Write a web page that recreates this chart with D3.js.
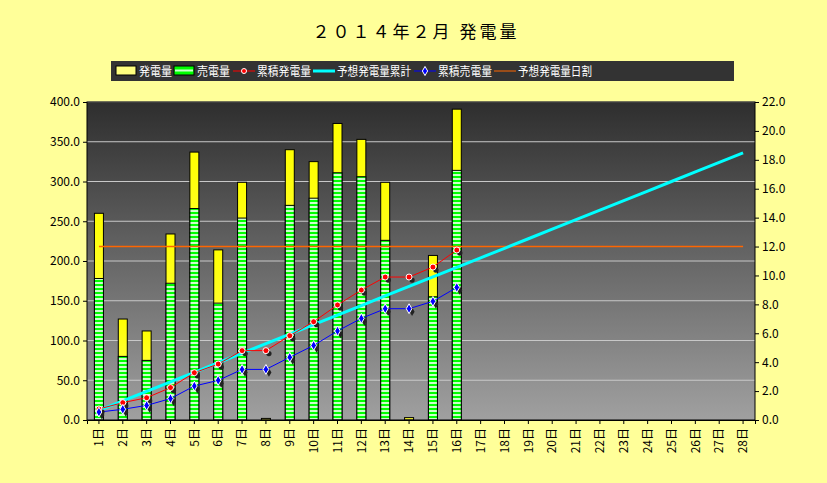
<!DOCTYPE html><html><head><meta charset="utf-8">
<script src="https://cdn.jsdelivr.net/npm/d3@7"></script>
<style>body{margin:0;background:#ffff99}text{font-family:"Noto Sans CJK JP",sans-serif}</style></head><body>
<svg id="c" width="827" height="483"></svg>
<script>
const days = d3.range(1,29).map(d=>d+"日");
const generation = [260,127,112,234,337,214,299,2,340,325,373,353,299,3,207,391];
const sold = [178,80,75,172,266,147,254,0,270,279,311,306,226,0,155,314];
const cumGen = [0.76,1.20,1.54,2.24,3.27,3.87,4.80,4.80,5.83,6.80,7.96,8.99,9.89,9.89,10.58,11.76];
const cumSold = [0.55,0.74,1.01,1.48,2.35,2.74,3.50,3.50,4.34,5.16,6.16,7.03,7.70,7.70,8.21,9.17];
const forecastCum = [0.66,1.32,1.98,2.64,3.30,3.96,4.62,5.28,5.94,6.60,7.26,7.92,8.58,9.24,9.90,10.56,11.22,11.88,12.54,13.20,13.86,14.52,15.18,15.84,16.50,17.16,17.82,18.48];
const forecastDaily = days.map(()=>12.0);
const leftTicks = [0,50,100,150,200,250,300,350,400];
const rightTicks = [0,2,4,6,8,10,12,14,16,18,20,22];

const svg=d3.select("#c");
const L=87,R=755,T=102,B=420;
const x=d3.scaleBand().domain(days).range([L,R]);
const yl=d3.scaleLinear().domain([0,400]).range([B,T]);
const yr=d3.scaleLinear().domain([0,22]).range([B,T]);
const defs=svg.append("defs");
const g=defs.append("linearGradient").attr("id","bg").attr("x1",0).attr("y1",0).attr("x2",0).attr("y2",1);
g.append("stop").attr("offset","0").attr("stop-color","#2e2e2e");
g.append("stop").attr("offset","1").attr("stop-color","#a0a0a0");
const p=defs.append("pattern").attr("id","stripe").attr("patternUnits","userSpaceOnUse").attr("width",4).attr("height",4);
p.append("rect").attr("width",4).attr("height",4).attr("fill","#00ff00");
p.append("rect").attr("y",2).attr("width",4).attr("height",2).attr("fill","#ccffcc");
const yg=defs.append("linearGradient").attr("id","yel").attr("x1",0).attr("y1",0).attr("x2",0).attr("y2",1);
yg.append("stop").attr("offset","0").attr("stop-color","#ffff00");
yg.append("stop").attr("offset","1").attr("stop-color","#ffff80");

svg.append("text").attr("x",416).attr("y",38).attr("text-anchor","middle").attr("font-size",17).attr("letter-spacing",3).text("２０１４年２月 発電量");
svg.append("rect").attr("x",L).attr("y",T).attr("width",R-L).attr("height",B-T).attr("fill","url(#bg)");
svg.append("g").selectAll("line").data(leftTicks.slice(1)).join("line")
 .attr("x1",L).attr("x2",R).attr("y1",d=>yl(d)).attr("y2",d=>yl(d)).attr("stroke","#c8c8c8").attr("stroke-width",1);

const bw=9;
svg.append("g").selectAll("rect").data(generation).join("rect")
 .attr("x",(d,i)=>x(days[i])+x.bandwidth()/2-bw/2).attr("y",d=>yl(d)).attr("width",bw).attr("height",d=>B-yl(d))
 .attr("fill","url(#yel)").attr("stroke","#000").attr("stroke-width",1);
svg.append("g").selectAll("rect").data(sold).join("rect")
 .attr("x",(d,i)=>x(days[i])+x.bandwidth()/2-bw/2).attr("y",d=>yl(d)).attr("width",bw).attr("height",d=>B-yl(d))
 .attr("fill","url(#stripe)").attr("stroke","#000").attr("stroke-width",1);

const cx=i=>x(days[i])+x.bandwidth()/2;
svg.append("line").attr("x1",cx(0)).attr("x2",cx(27)).attr("y1",yr(forecastDaily[0])).attr("y2",yr(forecastDaily[27])).attr("stroke","#ff6600").attr("stroke-width",1.5);
const line=d3.line().x((d,i)=>cx(i)).y(d=>yr(d));
svg.append("path").datum(forecastCum).attr("d",line).attr("fill","none").attr("stroke","#00ffff").attr("stroke-width",3);
svg.append("path").datum(cumGen).attr("d",line).attr("fill","none").attr("stroke","#ff0000").attr("stroke-width",1);
svg.append("path").datum(cumSold).attr("d",line).attr("fill","none").attr("stroke","#0000ff").attr("stroke-width",1);
svg.append("g").selectAll("path").data(cumGen).join("path").attr("d",d3.symbol(d3.symbolCircle,22)())
 .attr("transform",(d,i)=>`translate(${cx(i)+3},${yr(d)+3})`).attr("fill","#222");
svg.append("g").selectAll("circle").data(cumGen).join("circle").attr("cx",(d,i)=>cx(i)).attr("cy",d=>yr(d)).attr("r",3)
 .attr("fill","#ff0000").attr("stroke","#fff").attr("stroke-width",1);
svg.append("g").selectAll("path").data(cumSold).join("path").attr("d",d3.symbol(d3.symbolDiamond,22)())
 .attr("transform",(d,i)=>`translate(${cx(i)+3},${yr(d)+3})`).attr("fill","#222");
svg.append("g").selectAll("path").data(cumSold).join("path").attr("d",d3.symbol(d3.symbolDiamond,28)())
 .attr("transform",(d,i)=>`translate(${cx(i)},${yr(d)})`).attr("fill","#0000ff").attr("stroke","#fff").attr("stroke-width",1);

const ax=svg.append("g").attr("transform",`translate(${L},0)`).call(d3.axisLeft(yl).tickValues(leftTicks).tickFormat(d3.format(".1f")).tickSize(4));
const ar=svg.append("g").attr("transform",`translate(${R},0)`).call(d3.axisRight(yr).tickValues(rightTicks).tickFormat(d3.format(".1f")).tickSize(4));
const ab=svg.append("g").attr("transform",`translate(0,${B})`).call(d3.axisBottom(x).tickSize(4));
ab.selectAll("text").attr("transform","rotate(-90)").attr("x",-8).attr("y",0).attr("dy","0.35em").attr("text-anchor","end");
[ax,ar,ab].forEach(a=>{a.selectAll("text").attr("font-size",12).attr("fill","#000").attr("font-family","Noto Sans CJK JP");a.selectAll("line,path").attr("stroke","#000");});
ax.select(".domain").remove();ar.select(".domain").remove();
svg.append("rect").attr("x",L).attr("y",T).attr("width",R-L).attr("height",B-T).attr("fill","none").attr("stroke","#000");

const lg=svg.append("g");
lg.append("rect").attr("x",111).attr("y",61).attr("width",623).attr("height",20).attr("fill","#333");
const items=[["発電量","ybar",116,139,33],["売電量","gbar",174,197,33],["累積発電量","red",233,257,54],["予想発電量累計","cyan",313,337,74],["累積売電量","blue",414,438,54],["予想発電量日割","orange",494,518,74]];
items.forEach(([t,k,x0,tx,tw])=>{
 if(k==="ybar") lg.append("rect").attr("x",x0).attr("y",66).attr("width",20).attr("height",9).attr("fill","#ffff80").attr("stroke","#000");
 else if(k==="gbar"){lg.append("rect").attr("x",x0).attr("y",66).attr("width",20).attr("height",9).attr("fill","#00ff00").attr("stroke","#000");
   lg.append("rect").attr("x",x0+1).attr("y",69.5).attr("width",18).attr("height",2).attr("fill","#ccffcc");}
 else{const col={red:"#ff0000",cyan:"#00ffff",blue:"#0000ff",orange:"#ff6600"}[k];
   lg.append("line").attr("x1",x0).attr("x2",x0+22).attr("y1",71).attr("y2",71).attr("stroke",col).attr("stroke-width",k==="cyan"?3:1);
   if(k==="red") lg.append("circle").attr("cx",x0+11).attr("cy",71).attr("r",2.5).attr("fill","#f00").attr("stroke","#fff");
   if(k==="blue") lg.append("path").attr("d",d3.symbol(d3.symbolDiamond,24)()).attr("transform",`translate(${x0+11},71)`).attr("fill","#00f").attr("stroke","#fff");}
 lg.append("text").attr("x",tx).attr("y",76).attr("font-size",12).attr("textLength",tw).attr("lengthAdjust","spacingAndGlyphs").attr("fill","#fff").text(t);
});
</script></body></html>
